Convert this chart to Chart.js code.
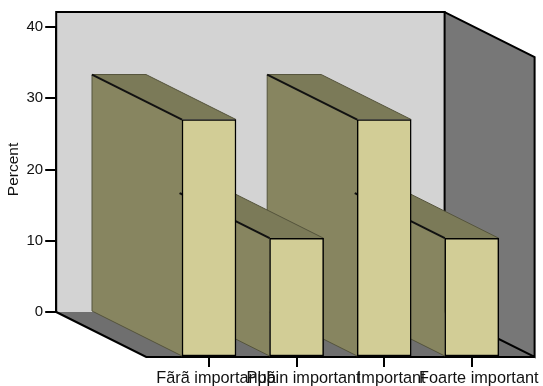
<!DOCTYPE html>
<html lang="en">
<head>
  <meta charset="UTF-8">
  <title>Percent by importance</title>
  <script src="https://cdn.jsdelivr.net/npm/chart.js"></script>
  <style>
    body { margin: 0; background: #fff; }
    canvas { display: block; }
  </style>
</head>
<body>
  <canvas id="chart" width="543" height="386"></canvas>

  <script>
    const categories = ['Fãrã importanþã', 'Puþin important', 'Important', 'Foarte important'];
    const percentValues = [33.33, 16.67, 33.33, 16.67];

    // Box depth: how far the front plane sits from the back wall
    const depthX = 90;
    const depthY = 45;
    const boxTop = 42.1;      // top of the back wall, in percent
    const boxLeftGap = 19;    // floor starts this far left of the category band
    const boxRightGap = 19;

    const colors = {
      wall: '#d3d3d3',
      floor: '#6f6f6f',
      sideWall: '#777777',
      barFront: '#d2cd96',
      barSide: '#878560',
      barTop: '#7b7a58',
      barEdge: '#55543c'
    };

    function polygon(ctx, points, fill) {
      ctx.beginPath();
      points.forEach((p, i) => i ? ctx.lineTo(p[0], p[1]) : ctx.moveTo(p[0], p[1]));
      ctx.closePath();
      ctx.fillStyle = fill;
      ctx.fill();
    }

    function line(ctx, points, color, width) {
      ctx.beginPath();
      points.forEach((p, i) => i ? ctx.lineTo(p[0], p[1]) : ctx.moveTo(p[0], p[1]));
      ctx.strokeStyle = color;
      ctx.lineWidth = width;
      ctx.stroke();
    }

    // Walls and floor of the box, all taken from the chart area and y scale
    const boxPlugin = {
      id: 'box3d',
      beforeLayout(chart) {
        // The y axis belongs to the back wall, so shift it there when it draws
        const ctx = chart.ctx;
        chart.scales.y.draw = function (area) {
          ctx.save();
          ctx.translate(-(depthX + boxLeftGap), -depthY);
          Chart.Scale.prototype.draw.call(this, area);
          ctx.restore();
        };
      },
      beforeDraw(chart) {
        const ctx = chart.ctx;
        const area = chart.chartArea;
        const frontLeft = area.left - boxLeftGap;
        const frontRight = area.right + boxRightGap;
        const base = chart.scales.y.getPixelForValue(0);
        const backLeft = frontLeft - depthX;
        const backRight = frontRight - depthX;
        const backBase = base - depthY;
        const backTop = chart.scales.y.getPixelForValue(boxTop) - depthY;

        polygon(ctx, [[backLeft, backTop], [backRight, backTop], [backRight, backBase], [backLeft, backBase]], colors.wall);
        polygon(ctx, [[backLeft, backBase], [backRight, backBase], [frontRight, base], [frontLeft, base]], colors.floor);
        polygon(ctx, [[backRight, backTop], [frontRight, backTop + depthY], [frontRight, base], [backRight, backBase]], colors.sideWall);

        line(ctx, [[backLeft, backBase], [backLeft, backTop], [backRight, backTop], [backRight, backBase]], '#000', 2);
        line(ctx, [[backRight, backTop], [frontRight, backTop + depthY], [frontRight, base], [backRight, backBase]], '#000', 2);
        line(ctx, [[backLeft, backBase], [frontLeft, base], [frontRight, base]], '#000', 2);
      },
      // Side and top faces of every bar go in first, the bars cover them afterwards
      beforeDatasetsDraw(chart) {
        const ctx = chart.ctx;
        const bars = chart.getDatasetMeta(0).data;

        // Right to left, so each side hides the back edge of the next bar
        [...bars].reverse().forEach((bar) => {
          const left = bar.x - bar.width / 2;
          polygon(ctx, [[left, bar.y], [left - depthX, bar.y - depthY], [left - depthX, bar.base - depthY], [left, bar.base]], colors.barSide);
          line(ctx, [[left - depthX, bar.y - depthY], [left - depthX, bar.base - depthY], [left, bar.base]], colors.barEdge, 1);
        });

        bars.forEach((bar) => {
          const left = bar.x - bar.width / 2;
          const right = left + bar.width;
          polygon(ctx, [[left, bar.y], [left - depthX, bar.y - depthY], [right - depthX, bar.y - depthY], [right, bar.y]], colors.barTop);
          line(ctx, [[left - depthX, bar.y - depthY], [right - depthX, bar.y - depthY], [right, bar.y]], colors.barEdge, 1);
          line(ctx, [[left - depthX, bar.y - depthY], [left, bar.y]], '#111', 2);
        });
      }
    };

    new Chart(document.getElementById('chart'), {
      type: 'bar',
      data: {
        labels: categories,
        datasets: [{
          data: percentValues,
          backgroundColor: colors.barFront,
          borderColor: '#000',
          borderWidth: 1.5,
          borderSkipped: false,
          barThickness: 54
        }]
      },
      options: {
        responsive: false,
        animation: false,
        layout: { padding: { left: 113.2, right: 27.4, top: 72, bottom: 0 } },
        plugins: { legend: { display: false }, tooltip: { enabled: false } },
        scales: {
          x: {
            afterFit(scale) { scale.height = 29; },
            border: { color: '#000', width: 2 },
            grid: { offset: false, drawOnChartArea: false, color: '#000', lineWidth: 2, tickLength: 10 },
            ticks: {
              autoSkip: false,
              minRotation: 0,
              maxRotation: 0,
              padding: 2,
              labelOffset: 7,
              color: '#111',
              font: { family: 'Liberation Sans', size: 16.3 }
            }
          },
          y: {
            min: 0,
            max: 40,
            afterFit(scale) { scale.width = 52; },
            border: { color: '#000', width: 2 },
            grid: { drawOnChartArea: false, color: '#000', lineWidth: 2, tickLength: 11 },
            ticks: {
              stepSize: 10,
              padding: 2,
              color: '#111',
              font: { family: 'Liberation Sans', size: 15 }
            },
            title: {
              display: true,
              text: 'Percent',
              color: '#111',
              padding: 0,
              font: { family: 'Liberation Sans', size: 15.5 }
            }
          }
        }
      },
      plugins: [boxPlugin]
    });
  </script>
</body>
</html>
